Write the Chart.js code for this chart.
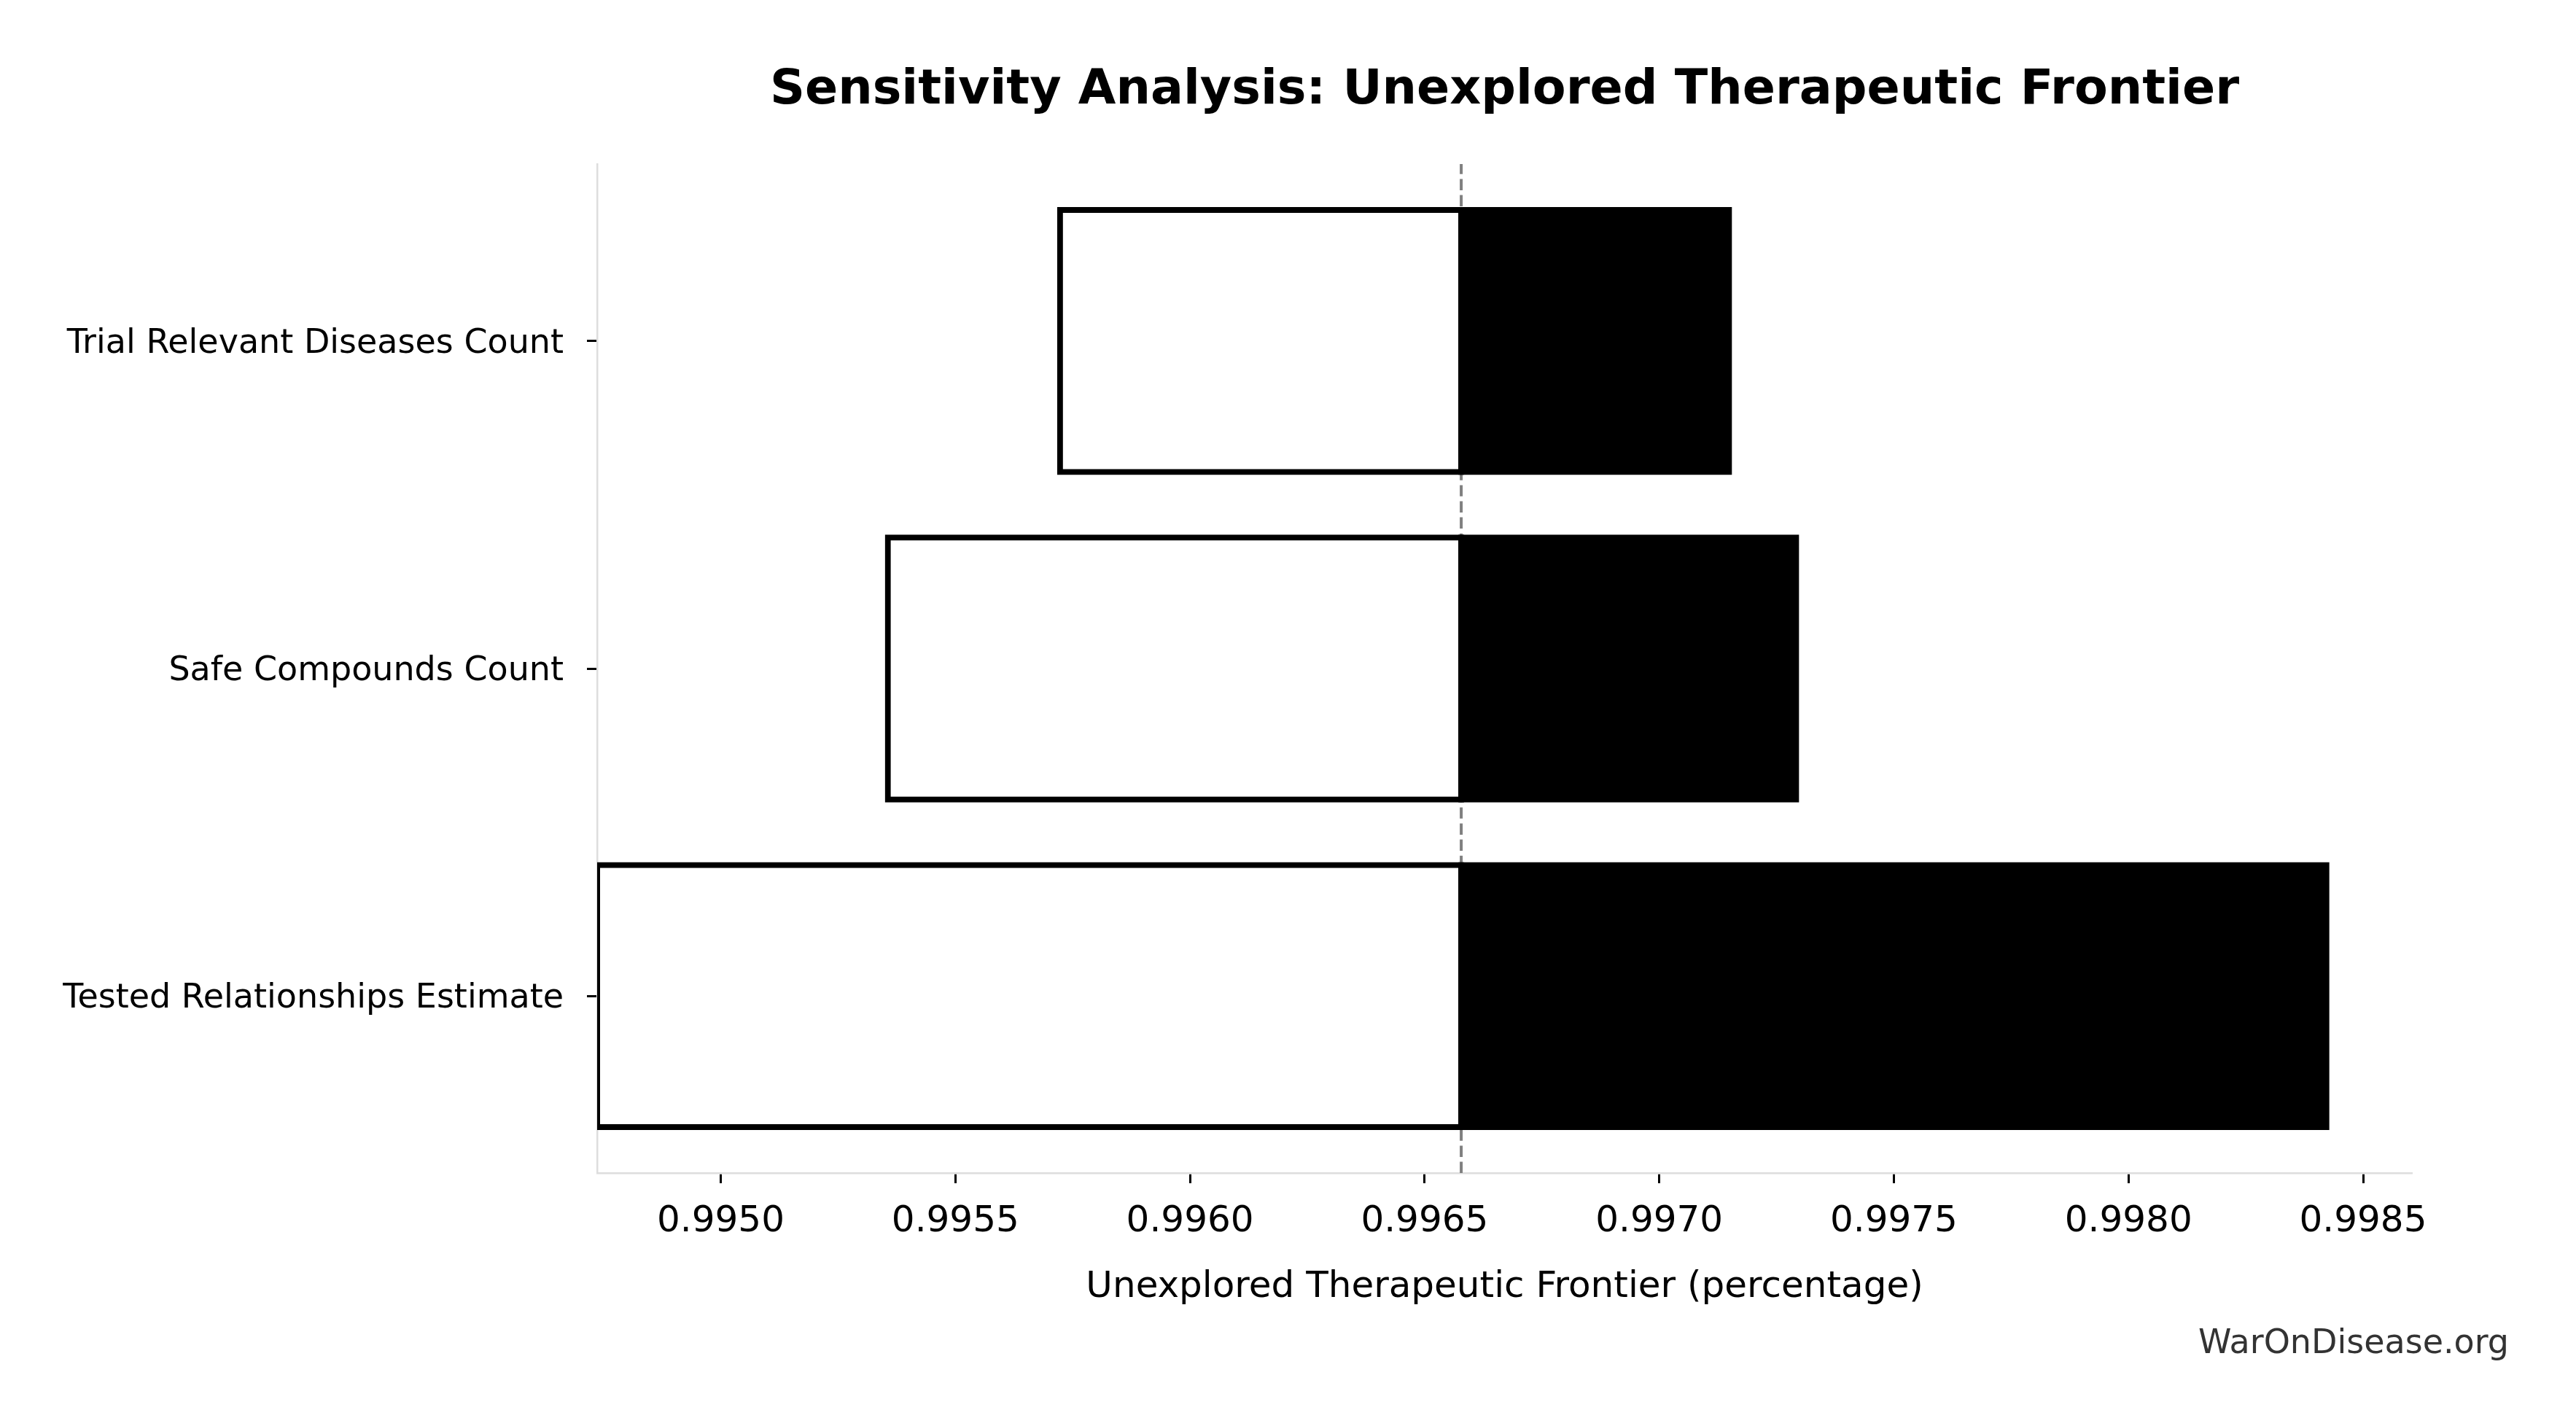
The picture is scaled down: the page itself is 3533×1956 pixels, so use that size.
<!DOCTYPE html>
<html>
<head>
<meta charset="utf-8">
<script src="https://cdn.jsdelivr.net/npm/chart.js@4.4.1/dist/chart.umd.min.js"></script>
<style>
  html, body { margin: 0; padding: 0; background: #fff; }
  #wrap { width: 3533px; height: 1956px; }
</style>
</head>
<body>
<div id="wrap"><canvas id="tornadoChart" width="3533" height="1956"></canvas></div>
<script>
const categories = ['Trial Relevant Diseases Count', 'Safe Compounds Count', 'Tested Relationships Estimate'];
const baselineValue = 0.996578;
const lowValues = [0.995723, 0.995356, 0.9947366];
const highValues = [0.997149, 0.997292, 0.998422];
const xTicks = [0.9950, 0.9955, 0.9960, 0.9965, 0.9970, 0.9975, 0.9980, 0.9985];
const xMin = 0.9947366;
const xMax = 0.9986041;

const fontFamily = "'DejaVu Sans', sans-serif";

document.addEventListener('DOMContentLoaded', () => {
  const ctx = document.getElementById('tornadoChart');

  const lowBars = categories.map((c, i) => ({ y: i, x: [lowValues[i], baselineValue] }));
  const highBars = categories.map((c, i) => ({ y: i, x: [baselineValue, highValues[i]] }));

  // dashed baseline, title and watermark
  const overlay = {
    id: 'overlay',
    beforeDatasetsDraw(chart) {
      const { ctx, chartArea, scales } = chart;
      const x = scales.x.getPixelForValue(baselineValue);
      ctx.save();
      ctx.strokeStyle = '#808080';
      ctx.lineWidth = 4;
      ctx.setLineDash([15.4, 6.7]);
      ctx.beginPath();
      ctx.moveTo(x, chartArea.bottom);
      ctx.lineTo(x, chartArea.top);
      ctx.stroke();
      ctx.restore();
    },
    afterDraw(chart) {
      const { ctx, chartArea } = chart;
      ctx.save();
      ctx.fillStyle = '#000';
      ctx.font = 'bold 66.7px ' + fontFamily;
      ctx.textAlign = 'center';
      ctx.textBaseline = 'alphabetic';
      ctx.fillText('Sensitivity Analysis: Unexplored Therapeutic Frontier', (chartArea.left + chartArea.right) / 2, 142);
      ctx.font = '46px ' + fontFamily;
      ctx.fillStyle = '#333333';
      ctx.textAlign = 'right';
      ctx.fillText('WarOnDisease.org', 3441, 1856);
      ctx.restore();
    }
  };

  const data = {
    datasets: [
      {
        label: 'High',
        data: highBars,
        backgroundColor: '#000000',
        borderColor: '#000000',
        borderWidth: 8,
        borderSkipped: false,
        inflateAmount: 4,
        grouped: false,
        clip: 0,
        order: 0
      },
      {
        label: 'Low',
        data: lowBars,
        backgroundColor: '#ffffff',
        borderColor: '#000000',
        borderWidth: 8,
        borderSkipped: false,
        inflateAmount: 4,
        grouped: false,
        clip: 0,
        order: 1
      }
    ]
  };

  const config = {
    type: 'bar',
    data: data,
    options: {
      indexAxis: 'y',
      responsive: false,
      devicePixelRatio: 1,
      animation: false,
      datasets: {
        bar: {
          categoryPercentage: 1,
          barPercentage: 0.8
        }
      },
      layout: {
        padding: { top: 225, right: 225, bottom: 0, left: 0 }
      },
      plugins: {
        legend: { display: false },
        tooltip: { enabled: false },
        title: { display: false }
      },
      scales: {
        x: {
          type: 'linear',
          min: xMin,
          max: xMax,
          afterBuildTicks: (scale) => {
            scale.ticks = xTicks.map(v => ({ value: v }));
          },
          afterFit: (scale) => {
            scale.height = 347;
          },
          ticks: {
            callback: (v) => Number(v).toFixed(4),
            font: { family: fontFamily, size: 50 },
            color: '#000',
            padding: 23,
            autoSkip: false,
            maxRotation: 0
          },
          grid: {
            display: true,
            drawOnChartArea: false,
            drawTicks: true,
            tickLength: 14,
            tickWidth: 3,
            tickColor: '#000'
          },
          border: { display: true, color: '#dddddd', width: 2.5 },
          title: {
            display: true,
            text: 'Unexplored Therapeutic Frontier (percentage)',
            font: { family: fontFamily, size: 50 },
            color: '#000',
            padding: { top: 0, bottom: 160 }
          }
        },
        y: {
          type: 'linear',
          reverse: true,
          offset: false,
          min: -0.54,
          max: 2.54,
          afterBuildTicks: (scale) => {
            scale.ticks = categories.map((c, i) => ({ value: i }));
          },
          afterFit: (scale) => {
            scale.width = 819;
          },
          ticks: {
            callback: (v) => categories[v] ?? '',
            font: { family: fontFamily, size: 46 },
            color: '#000',
            padding: 32,
            labelOffset: 4,
            autoSkip: false
          },
          grid: {
            display: true,
            offset: false,
            drawOnChartArea: false,
            drawTicks: true,
            tickLength: 14,
            tickWidth: 3,
            tickColor: '#000'
          },
          border: { display: true, color: '#dddddd', width: 2.5 }
        }
      }
    },
    plugins: [overlay]
  };

  new Chart(ctx, config);
});
</script>
</body>
</html>
